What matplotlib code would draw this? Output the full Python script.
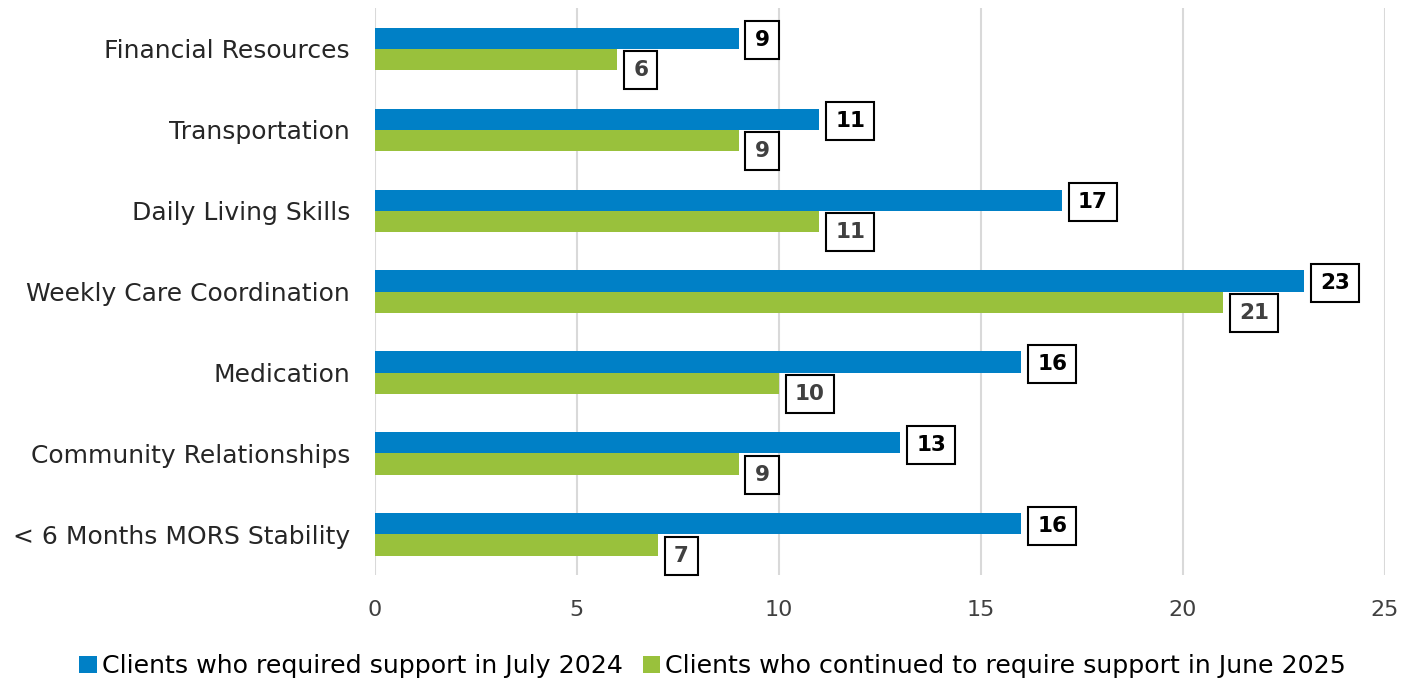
import matplotlib.pyplot as plt
import numpy as np

BLUE, GREEN = "#0080C6", "#99C13C"

categories = ["Financial Resources", "Transportation", "Daily Living Skills",
              "Weekly Care Coordination", "Medication", "Community Relationships",
              "< 6 Months MORS Stability"]
july_2024 = [9, 11, 17, 23, 16, 13, 16]
june_2025 = [6, 9, 11, 21, 10, 9, 7]
series_names = ["Clients who required support in July 2024",
                "Clients who continued to require support in June 2025"]

plt.rcParams.update({"font.family": ["DejaVu Sans"]})

fig = plt.figure(figsize=(14.16, 6.78), dpi=100)
ax = fig.add_axes([0.2648, 0.152, 0.7132, 0.836])

y = np.arange(len(categories))
h = 0.26
ax.barh(y - h / 2, july_2024, height=h, color=BLUE, label=series_names[0], zorder=3)
ax.barh(y + h / 2, june_2025, height=h, color=GREEN, label=series_names[1], zorder=3)

box = dict(boxstyle="square,pad=0.42", facecolor="white", edgecolor="black", linewidth=1.5)
for yi, v in zip(y, july_2024):
    ax.annotate(str(v), (v, yi - h / 2), xytext=(11.5, -1.5), textcoords="offset points",
                ha="left", va="center", fontsize=15.5, fontweight="bold", color="black",
                bbox=box, zorder=4)
for yi, v in zip(y, june_2025):
    ax.annotate(str(v), (v, yi + h / 2), xytext=(11.5, -8), textcoords="offset points",
                ha="left", va="center", fontsize=15.5, fontweight="bold", color="#404040",
                bbox=box, zorder=4)

ax.set_xlim(0, 25)
ax.set_ylim(len(categories) - 0.5, -0.5)
ax.set_xticks(range(0, 26, 5))
ax.set_yticks(y)
ax.set_yticklabels(categories, fontsize=18, color="#262626")
ax.tick_params(axis="x", labelsize=16, labelcolor="#404040", length=0, pad=18)
ax.tick_params(axis="y", length=0, pad=18)
ax.grid(axis="x", color="#D9D9D9", linewidth=1.5, zorder=0)
for s in ax.spines.values():
    s.set_visible(False)

ax.legend(loc="upper center", bbox_to_anchor=(0.5 - 0.2648 / 0.7132 / 2 + 0.02, -0.1), ncol=2,
          frameon=False, fontsize=18.2, handlelength=0.7, handleheight=0.7,
          handletextpad=0.2, columnspacing=0.8)

fig.savefig("out.png", dpi=100, facecolor="white")
